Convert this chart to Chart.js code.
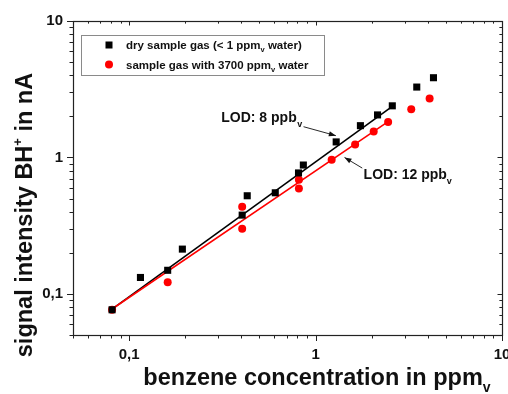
<!DOCTYPE html>
<html>
<head>
<meta charset="utf-8">
<script src="https://cdn.jsdelivr.net/npm/chart.js@4.4.1/dist/chart.umd.min.js"></script>
<style>
html,body{margin:0;padding:0;background:#fff;}
#wrap{width:508px;height:394px;position:relative;}
</style>
</head>
<body>
<div id="wrap"><canvas id="c" width="508" height="394"></canvas></div>
<script>
// ---- data ----
const dryX = [0.081, 0.115, 0.161, 0.193, 0.404, 0.43, 0.608, 0.81, 0.86, 1.29, 1.74, 2.15, 2.58, 3.49, 4.29];
const dryY = [0.0765, 0.132, 0.149, 0.213, 0.378, 0.524, 0.551, 0.77, 0.88, 1.30, 1.71, 2.05, 2.39, 3.28, 3.84];
const wetX = [0.081, 0.161, 0.404, 0.404, 0.814, 0.814, 1.22, 1.63, 2.05, 2.45, 3.26, 4.09];
const wetY = [0.0765, 0.122, 0.435, 0.300, 0.686, 0.592, 0.962, 1.245, 1.55, 1.82, 2.26, 2.71];
const dryFitX = [0.081, 2.58];
const dryFitY = [0.0775, 2.37];
const wetFitX = [0.081, 2.45];
const wetFitY = [0.0775, 1.83];
const tickValues = [0.1, 1, 10];
const tickLabels = ['0,1', '1', '10'];
const minorValues = [0.05,0.06,0.07,0.08,0.09,0.2,0.3,0.4,0.5,0.6,0.7,0.8,0.9,2,3,4,5,6,7,8,9];
const axisMin = 0.05, axisMax = 10;
const seriesNames = ['dry sample gas (< 1 ppm', 'sample gas with 3700 ppm'];
const seriesTails = [' water)', ' water'];
const xTitle = 'benzene concentration in ppm';
const yTitleA = 'signal intensity BH';
const yTitleB = ' in nA';
// annotation anchors in data units
const lod8 = {text: 'LOD: 8 ppb', tx: 0.792, ty: 1.81, ax0: 0.862, ay0: 1.68, ax1: 1.285, ay1: 1.445};
const lod12 = {text: 'LOD: 12 ppb', tx: 1.81, ty: 0.694, ax0: 1.78, ay0: 0.836, ax1: 1.43, ay1: 1.0};

const FONT = '"Liberation Sans", Arial, sans-serif';
const toPts = (xs, ys) => xs.map((x, i) => ({x: x, y: ys[i]}));

function fnt(size){ return 'bold ' + size + 'px ' + FONT; }
function drawRich(ctx, parts, x, y, align){
  let total = 0;
  parts.forEach(p => { ctx.font = fnt(p.s); p.w = ctx.measureText(p.t).width; total += p.w; });
  let cx = align === 'center' ? x - total/2 : (align === 'right' ? x - total : x);
  ctx.textAlign = 'left'; ctx.textBaseline = 'alphabetic';
  parts.forEach(p => { ctx.font = fnt(p.s); ctx.fillText(p.t, cx, y + (p.dy || 0)); cx += p.w; });
}
function arrow(ctx, x0, y0, x1, y1){
  ctx.beginPath(); ctx.moveTo(x0, y0); ctx.lineTo(x1, y1); ctx.stroke();
  const a = Math.atan2(y1 - y0, x1 - x0), L = 7, W = 2.6;
  ctx.beginPath();
  ctx.moveTo(x1, y1);
  ctx.lineTo(x1 - L*Math.cos(a) + W*Math.sin(a), y1 - L*Math.sin(a) - W*Math.cos(a));
  ctx.lineTo(x1 - L*Math.cos(a) - W*Math.sin(a), y1 - L*Math.sin(a) + W*Math.cos(a));
  ctx.closePath(); ctx.fill();
}

const decor = {
  id: 'decor',
  afterDatasetsDraw(chart){
    const ctx = chart.ctx, a = chart.chartArea;
    const xs = chart.scales.x, ys = chart.scales.y;
    ctx.save();
    // frame
    ctx.strokeStyle = '#222'; ctx.lineWidth = 1.2;
    ctx.strokeRect(Math.round(a.left) + 0.5, Math.round(a.top) + 0.5, Math.round(a.right - a.left), Math.round(a.bottom - a.top));
    // ticks
    ctx.lineWidth = 1;
    ctx.beginPath();
    const drawT = (v, len) => {
      const px = Math.round(xs.getPixelForValue(v)) + 0.5;
      ctx.moveTo(px, a.bottom); ctx.lineTo(px, a.bottom + len);
      ctx.moveTo(px, a.top); ctx.lineTo(px, a.top + len * 0.75);
      const py = Math.round(ys.getPixelForValue(v)) + 0.5;
      ctx.moveTo(a.left, py); ctx.lineTo(a.left - len, py);
      ctx.moveTo(a.right, py); ctx.lineTo(a.right - len * 0.75, py);
    };
    tickValues.forEach(v => drawT(v, 6));
    minorValues.forEach(v => drawT(v, 3.5));
    ctx.stroke();
    // legend
    ctx.strokeStyle = '#8a8a8a'; ctx.lineWidth = 1;
    ctx.strokeRect(81.5, 35.5, 243, 40);
    ctx.fillStyle = '#000';
    ctx.fillRect(105.5, 41.5, 7, 7);
    ctx.fillStyle = '#ff0000';
    ctx.beginPath(); ctx.arc(109, 64.5, 4, 0, Math.PI*2); ctx.fill();
    ctx.fillStyle = '#111';
    drawRich(ctx, [{t: seriesNames[0], s: 11.5}, {t: 'v', s: 7.5, dy: 3}, {t: seriesTails[0], s: 11.5}], 126, 49, 'left');
    drawRich(ctx, [{t: seriesNames[1], s: 11.5}, {t: 'v', s: 7.5, dy: 3}, {t: seriesTails[1], s: 11.5}], 126, 68.5, 'left');
    // annotations
    ctx.fillStyle = '#111';
    const t8x = xs.getPixelForValue(lod8.tx), t8y = ys.getPixelForValue(lod8.ty);
    drawRich(ctx, [{t: lod8.text, s: 14}], t8x, t8y, 'right');
    drawRich(ctx, [{t: 'v', s: 9, dy: 4.5}], t8x + 0.5, t8y, 'left');
    const t12x = xs.getPixelForValue(lod12.tx), t12y = ys.getPixelForValue(lod12.ty);
    drawRich(ctx, [{t: lod12.text, s: 14}, {t: 'v', s: 9, dy: 4.5}], t12x, t12y, 'left');
    ctx.strokeStyle = '#111'; ctx.fillStyle = '#111'; ctx.lineWidth = 0.9;
    arrow(ctx, xs.getPixelForValue(lod8.ax0), ys.getPixelForValue(lod8.ay0), xs.getPixelForValue(lod8.ax1), ys.getPixelForValue(lod8.ay1));
    arrow(ctx, xs.getPixelForValue(lod12.ax0), ys.getPixelForValue(lod12.ay0), xs.getPixelForValue(lod12.ax1), ys.getPixelForValue(lod12.ay1));
    // axis titles
    ctx.fillStyle = '#111';
    drawRich(ctx, [{t: xTitle, s: 23.5}, {t: 'v', s: 14, dy: 7}], 317, 385, 'center');
    ctx.save();
    ctx.translate(32, 215);
    ctx.rotate(-Math.PI/2);
    drawRich(ctx, [{t: yTitleA, s: 23.5}, {t: '+', s: 13, dy: -10}, {t: yTitleB, s: 23.5}], 0, 0, 'center');
    ctx.restore();
    ctx.restore();
  }
};

const logAxis = (isX) => ({
  type: 'logarithmic',
  min: axisMin, max: axisMax,
  grid: {display: false},
  border: {display: false},
  ticks: {
    autoSkip: false, maxRotation: 0, minRotation: 0,
    padding: isX ? 3 : 2,
    color: '#111',
    font: {family: FONT, size: 15, weight: 'bold'},
    callback: (v) => { const i = tickValues.findIndex(t => Math.abs(t - v) < 1e-9); return i >= 0 ? tickLabels[i] : ''; }
  },
  afterBuildTicks: (s) => { s.ticks = tickValues.map(v => ({value: v})); },
  afterFit: (s) => {
    if (isX) { s.height = 59; } else { s.width = 73; }
    s.paddingLeft = 0; s.paddingRight = 0; s.paddingTop = 0; s.paddingBottom = 0;
  }
});

new Chart(document.getElementById('c'), {
  type: 'scatter',
  data: {
    datasets: [
      {label: 'dry', data: toPts(dryX, dryY), pointStyle: 'rect', pointRadius: 5, pointHoverRadius: 5,
       backgroundColor: '#000', borderColor: '#000', borderWidth: 0, order: 1},
      {label: 'wet', data: toPts(wetX, wetY), pointStyle: 'circle', pointRadius: 4, pointHoverRadius: 4,
       backgroundColor: '#ff0000', borderColor: '#ff0000', borderWidth: 0, order: 2},
      {label: 'wet fit', type: 'line', data: toPts(wetFitX, wetFitY), showLine: true, pointRadius: 0,
       borderColor: '#ff0000', borderWidth: 1.6, fill: false, order: 3},
      {label: 'dry fit', type: 'line', data: toPts(dryFitX, dryFitY), showLine: true, pointRadius: 0,
       borderColor: '#000', borderWidth: 1.6, fill: false, order: 4}
    ]
  },
  options: {
    responsive: false,
    animation: false,
    devicePixelRatio: 1,
    layout: {padding: {left: 0, right: 6, top: 21, bottom: 0}},
    plugins: {legend: {display: false}, tooltip: {enabled: false}},
    scales: {x: logAxis(true), y: logAxis(false)}
  },
  plugins: [decor]
});
</script>
</body>
</html>
